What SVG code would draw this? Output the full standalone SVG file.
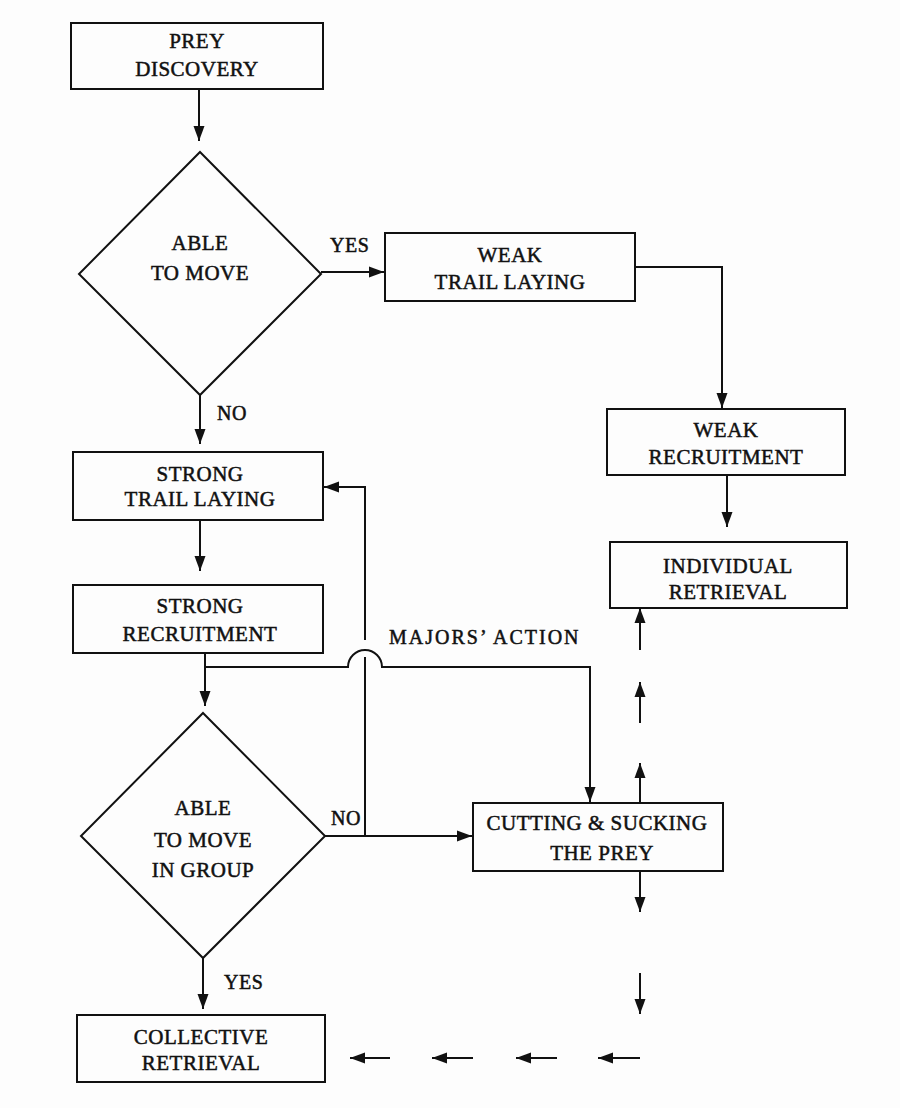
<svg xmlns="http://www.w3.org/2000/svg" width="900" height="1108" viewBox="0 0 900 1108">
<style>
.box{fill:none;stroke:#111;stroke-width:2}
.ln{fill:none;stroke:#111;stroke-width:2}
.t{font-family:"Liberation Serif","Times New Roman",serif;font-size:21px;fill:#111;stroke:#111;stroke-width:0.5;text-anchor:middle;letter-spacing:0.5px}
.lbl{font-family:"Liberation Serif","Times New Roman",serif;font-size:20px;fill:#111;stroke:#111;stroke-width:0.5;letter-spacing:0.5px}
</style>
<defs>
<marker id="ah" markerUnits="userSpaceOnUse" markerWidth="16" markerHeight="12" refX="15" refY="6" orient="auto">
<path d="M0,0.5 L15,6 L0,11.5 Z" fill="#111"/>
</marker>
</defs>
<rect width="900" height="1108" fill="#fdfdfd"/>

<g id="prey-discovery">
<rect class="box" x="71" y="23" width="252" height="66"/>
<text class="t" x="197" y="48">PREY</text>
<text class="t" x="197" y="76">DISCOVERY</text>
</g>

<g id="able-to-move">
<polygon class="box" points="200,152 321,274 200,395 79,274"/>
<text class="t" x="200" y="250">ABLE</text>
<text class="t" x="200" y="280">TO MOVE</text>
</g>

<g id="weak-trail-laying">
<rect class="box" x="385" y="233" width="250" height="68"/>
<text class="t" x="510" y="262">WEAK</text>
<text class="t" x="510" y="289">TRAIL LAYING</text>
</g>

<g id="weak-recruitment">
<rect class="box" x="607" y="409" width="238" height="66"/>
<text class="t" x="726" y="437">WEAK</text>
<text class="t" x="726" y="464">RECRUITMENT</text>
</g>

<g id="individual-retrieval">
<rect class="box" x="610" y="542" width="237" height="66"/>
<text class="t" x="728" y="573">INDIVIDUAL</text>
<text class="t" x="728" y="599">RETRIEVAL</text>
</g>

<g id="strong-trail-laying">
<rect class="box" x="73" y="452" width="250" height="68"/>
<text class="t" x="200" y="481">STRONG</text>
<text class="t" x="200" y="506">TRAIL LAYING</text>
</g>

<g id="strong-recruitment">
<rect class="box" x="73" y="585" width="250" height="68"/>
<text class="t" x="200" y="613">STRONG</text>
<text class="t" x="200" y="641">RECRUITMENT</text>
</g>

<g id="able-to-move-in-group">
<polygon class="box" points="203,713 325,836 203,958 81,836"/>
<text class="t" x="203" y="815">ABLE</text>
<text class="t" x="203" y="847">TO MOVE</text>
<text class="t" x="203" y="877">IN GROUP</text>
</g>

<g id="cutting-sucking">
<rect class="box" x="473" y="803" width="250" height="68"/>
<text class="t" x="597" y="830">CUTTING &amp; SUCKING</text>
<text class="t" x="602" y="860">THE PREY</text>
</g>

<g id="collective-retrieval">
<rect class="box" x="77" y="1015" width="248" height="67"/>
<text class="t" x="201" y="1044">COLLECTIVE</text>
<text class="t" x="201" y="1070">RETRIEVAL</text>
</g>

<g id="connectors">
<line class="ln" x1="199" y1="89" x2="199" y2="141" marker-end="url(#ah)"/>
<line class="ln" x1="321" y1="272" x2="384" y2="272" marker-end="url(#ah)"/>
<polyline class="ln" points="635,267 722,267 722,408" marker-end="url(#ah)"/>
<line class="ln" x1="727" y1="475" x2="727" y2="527" marker-end="url(#ah)"/>
<line class="ln" x1="200" y1="395" x2="200" y2="444" marker-end="url(#ah)"/>
<line class="ln" x1="200" y1="520" x2="200" y2="571" marker-end="url(#ah)"/>
<line class="ln" x1="205" y1="653" x2="205" y2="706" marker-end="url(#ah)"/>
<path class="ln" d="M205,667 H348 A17,17 0 0 1 382,667 H590 V802" marker-end="url(#ah)"/>
<line class="ln" x1="365" y1="836" x2="365" y2="657"/>
<polyline class="ln" points="365,640 365,487 324,487" marker-end="url(#ah)"/>
<line class="ln" x1="325" y1="836" x2="472" y2="836" marker-end="url(#ah)"/>
<line class="ln" x1="203" y1="958" x2="203" y2="1009" marker-end="url(#ah)"/>
<line class="ln" x1="640" y1="650" x2="640" y2="608" marker-end="url(#ah)"/>
<line class="ln" x1="640" y1="723" x2="640" y2="682" marker-end="url(#ah)"/>
<line class="ln" x1="640" y1="802" x2="640" y2="763" marker-end="url(#ah)"/>
<line class="ln" x1="640" y1="871" x2="640" y2="912" marker-end="url(#ah)"/>
<line class="ln" x1="640" y1="973" x2="640" y2="1014" marker-end="url(#ah)"/>
<line class="ln" x1="640" y1="1058" x2="598" y2="1058" marker-end="url(#ah)"/>
<line class="ln" x1="557" y1="1058" x2="516" y2="1058" marker-end="url(#ah)"/>
<line class="ln" x1="473" y1="1058" x2="432" y2="1058" marker-end="url(#ah)"/>
<line class="ln" x1="390" y1="1058" x2="350" y2="1058" marker-end="url(#ah)"/>
</g>

<g id="labels">
<text class="lbl" x="330" y="252">YES</text>
<text class="lbl" x="217" y="420">NO</text>
<text class="lbl" x="331" y="825">NO</text>
<text class="lbl" x="224" y="989">YES</text>
<text class="lbl" x="389" y="644" style="letter-spacing:2px">MAJORS’ ACTION</text>
</g>
</svg>
